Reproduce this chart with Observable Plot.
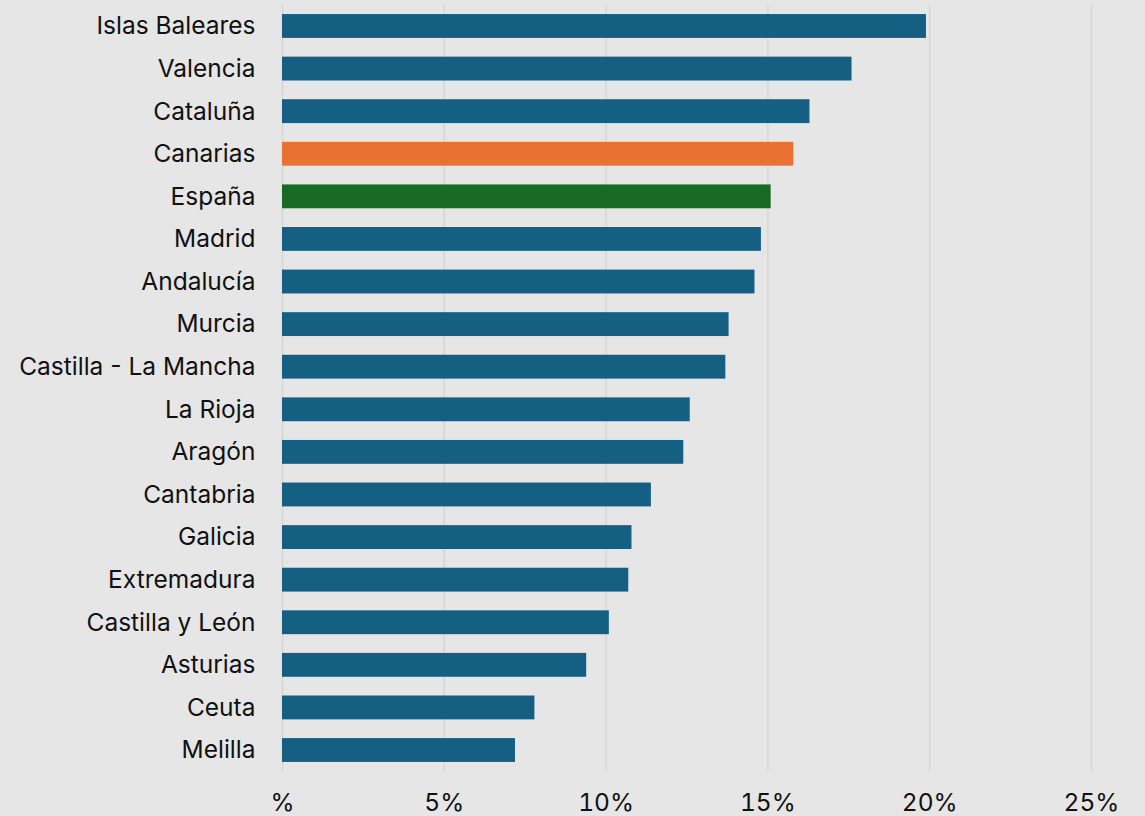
<!DOCTYPE html>
<html>
<head>
<meta charset="utf-8">
<script src="https://cdn.jsdelivr.net/npm/d3@7"></script>
<script src="https://cdn.jsdelivr.net/npm/@observablehq/plot@0.6"></script>
<style>
  html, body { margin: 0; padding: 0; background: #e6e6e6; }
  #chart svg { display: block; }
</style>
</head>
<body>
<div id="chart"></div>
<script>
const regions = ["Islas Baleares","Valencia","Cataluña","Canarias","España","Madrid","Andalucía","Murcia","Castilla - La Mancha","La Rioja","Aragón","Cantabria","Galicia","Extremadura","Castilla y León","Asturias","Ceuta","Melilla"];
const values = [19.9,17.6,16.3,15.8,15.1,14.8,14.6,13.8,13.7,12.6,12.4,11.4,10.8,10.7,10.1,9.4,7.8,7.2];
const xTicks = [0,5,10,15,20,25];
const highlight = {"Canarias": "#e97132", "España": "#196b24"};
const defaultColor = "#156082";

const data = regions.map((r, i) => ({region: r, value: values[i]}));
const fmt = d => d === 0 ? "%" : d + "%";

const chart = Plot.plot({
  width: 1145,
  height: 816,
  marginLeft: 282,
  marginRight: 54,
  marginTop: 0,
  marginBottom: 40,
  style: {background: "#e6e6e6", fontFamily: "Inter, 'Noto Sans', sans-serif", fontSize: "24.5px", color: "#111"},
  x: {domain: [0, 25], ticks: xTicks, tickFormat: fmt, label: null},
  y: {domain: regions, paddingInner: 0.44, paddingOuter: 0.33, round: false, label: null},
  marks: [
    Plot.gridX(xTicks, {stroke: "#d6d6d6", strokeOpacity: 1, strokeWidth: 1.5, insetTop: 5, insetBottom: 5}),
    Plot.barX(data, {x: "value", y: "region", fill: d => highlight[d.region] || defaultColor}),
    Plot.axisX({ticks: xTicks, tickSize: 0, tickPadding: 17, tickFormat: fmt, label: null, fontSize: 24.5}),
    Plot.axisY({tickSize: 0, tickPadding: 27, label: null, fontSize: 24.5})
  ]
});
document.getElementById("chart").appendChild(chart);
</script>
</body>
</html>
